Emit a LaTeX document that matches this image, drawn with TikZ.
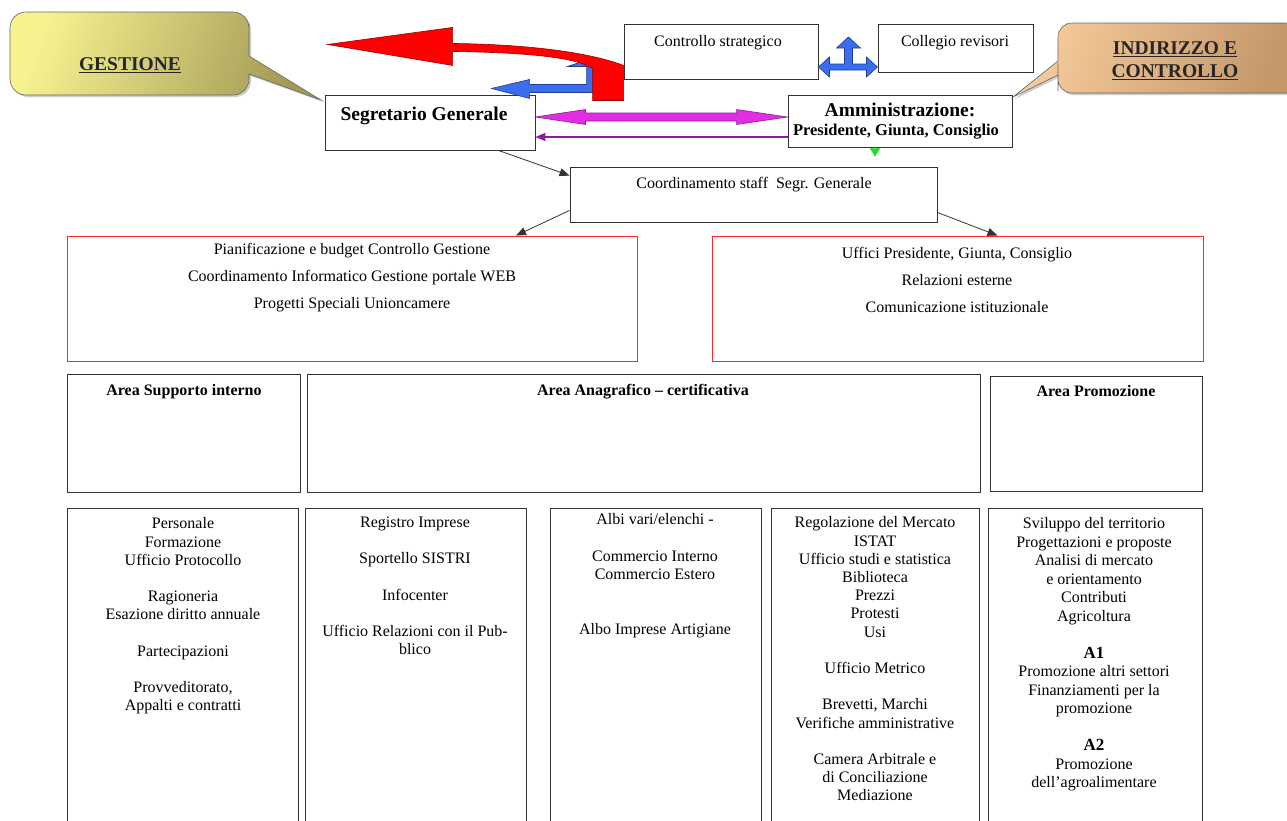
\documentclass[tikz,border=0pt]{standalone}
\usepackage{fontspec}
\setmainfont{Liberation Serif}
\usetikzlibrary{arrows.meta,calc,shadows}

\definecolor{callyel}{HTML}{F7F290}
\definecolor{callolv}{HTML}{A29A56}
\definecolor{callpch}{HTML}{F6CC9C}
\definecolor{callbrn}{HTML}{C4976A}
\definecolor{arrmag}{HTML}{E22EE2}
\definecolor{arrmagdk}{HTML}{8A1E96}
\definecolor{arrpur}{HTML}{8E1AA0}
\definecolor{arrblue}{HTML}{3A6EEE}
\definecolor{arrbluedk}{HTML}{1F3C9E}
\definecolor{arrgreen}{HTML}{22DD22}
\definecolor{boxline}{HTML}{333333}

\tikzset{
  box/.style={draw=boxline, line width=0.9pt, rectangle, inner sep=0pt},
  redbox/.style={draw=red!85, line width=0.9pt, rectangle, inner sep=0pt},
  txt/.style={anchor=north, inner sep=0pt, align=center, font=\fontsize{16}{18.2}\selectfont},
  ttl/.style={txt, font=\fontsize{16}{18.2}\selectfont\bfseries},
  bigttl/.style={txt, font=\fontsize{19.5}{23}\selectfont\bfseries},
  link/.style={draw=boxline, line width=0.8pt, -{Triangle[length=10pt,width=8pt]}},
  blockarr/.style={line width=0.6pt, line join=miter},
  calltxt/.style={bigttl, text=black!85},
}

\begin{document}
\begin{tikzpicture}[x=1pt, y=-1pt]
  \useasboundingbox (0,0) rectangle (1287,820);
  \fill[white] (0,0) rectangle (1287,820);
  \clip (0,0) rectangle (1287,820);

  % callouts
  \path[draw=black!60, line width=0.6pt, left color=callyel, right color=callolv, shading angle=70,
        drop shadow={opacity=0.4, shadow xshift=2pt, shadow yshift=-2pt}]
    [rounded corners=16pt] (10,50) -- (10,12) -- (249,12) -- (249,40)
    [sharp corners] -- (249,56) -- (321,100) -- (249,74) -- (249,76)
    [rounded corners=16pt] -- (249,95) -- (10,95) -- cycle;
  \node[calltxt] (gest) at (130,57) {\underline{GESTIONE}};

  \path[draw=black!60, line width=0.6pt, left color=callpch, right color=callbrn, shading angle=70,
        drop shadow={opacity=0.4, shadow xshift=2pt, shadow yshift=-2pt}]
    [rounded corners=14pt] (1180,23) -- (1300,23) -- (1300,93) -- (1058,93) -- (1058,77)
    [sharp corners] -- (1058,75) -- (1013,97) -- (1058,61) -- (1058,58)
    [rounded corners=14pt] -- (1058,23) -- cycle;
  \node[calltxt] (indir) at (1175,41) {\underline{INDIRIZZO E}\\\underline{CONTROLLO}};

  % top boxes
  \node[box, minimum width=194pt, minimum height=55pt] (cs) at (721,51.5) {};
  \node[box, minimum width=155pt, minimum height=48pt] (cr) at (955.5,48) {};
  \node[box, minimum width=210pt, minimum height=55pt] (seg) at (430,122.5) {};
  \node[box, minimum width=224pt, minimum height=52pt] (amm) at (900,121) {};
  \node[box, minimum width=367pt, minimum height=55pt] (coord) at (753.5,194.5) {};

  \node[txt] (cstxt) at (718,35.5) {Controllo strategico};
  \node[txt] (crtxt) at (955,35.5) {Collegio revisori};
  \node[bigttl] (segtxt) at (424,107) {Segretario Generale};
  \node[bigttl] (ammtxt) at (900,103) {Amministrazione:};
  \node[txt, font=\fontsize{16.5}{19}\selectfont\bfseries] (ammsub) at (896,123.5) {Presidente, Giunta, Consiglio};
  \node[txt] (coordtxt) at (754,177.5) {Coordinamento staff\ \ Segr. Generale};

  % blue and red bent arrows
  \begin{scope}[shift={(cs.south west)}]
    \draw[blockarr, draw=arrbluedk, fill=arrblue] (-37,-13) -- (-37,5) -- (-94,5) -- (-94,0)
      -- (-132,9) -- (-94,19) -- (-94,13) -- (-29,13) -- (-29,-13) -- (-20,-13)
      -- (-29,-22) -- (-56,-13) -- cycle;
    \draw[blockarr, draw=red!60!black, fill=red] (-31,21) -- (0,21) -- (0,-14)
      .. controls (-34,-27) and (-94,-35) .. (-171,-36) -- (-171,-52) -- (-296,-35)
      -- (-171,-14) -- (-171,-28) .. controls (-104,-27) and (-49,-23) .. (-31,-11) -- cycle;
  \end{scope}

  % three-way arrow
  \coordinate (bL) at ([yshift=-15.5pt]cs.east);
  \begin{scope}[shift={(bL)}]
    \draw[blockarr, draw=arrbluedk, fill=arrblue] (0,0) -- (11,-10) -- (11,-3) -- (26,-3)
      -- (26,-19) -- (18,-19) -- (30,-30) -- (42,-19) -- (34,-19) -- (34,-3) -- (48,-3)
      -- (48,-10) -- (59,0) -- (48,10) -- (48,3) -- (11,3) -- (11,10) -- cycle;
  \end{scope}

  % magenta double arrow
  \coordinate (mL) at ([yshift=5.5pt]seg.east);
  \coordinate (mR) at ([yshift=4pt]amm.west);
  \draw[blockarr, draw=arrmagdk, fill=arrmag] (mL) -- ($(mL)+(50,-7.5)$) -- ($(mL)+(50,-4)$)
    -- ($(mR)+(-51,-4)$) -- ($(mR)+(-51,-7.5)$) -- (mR) -- ($(mR)+(-51,7.5)$)
    -- ($(mR)+(-51,4)$) -- ($(mL)+(50,4)$) -- ($(mL)+(50,7.5)$) -- cycle;
  \draw[arrpur, line width=1.3pt, -{Triangle[length=10pt,width=8pt]}]
    ([yshift=-16pt]amm.west) -- ([yshift=-14.5pt]seg.east);
  \draw[arrgreen, line width=0.5pt, -{Triangle[length=8pt,width=10pt]}]
    ([xshift=-25pt]amm.south) -- ++(0,9);

  % staff
  \node[redbox, minimum width=570pt, minimum height=125pt] (staffL) at (352,298.5) {};
  \node[redbox, minimum width=491pt, minimum height=125pt] (staffR) at (957.5,298.5) {};
  \node[txt] (staffLtxt) at (352,243.5) {Pianificazione e budget Controllo Gestione\\[8.8pt]
    Coordinamento Informatico Gestione portale WEB\\[8.8pt]Progetti Speciali Unioncamere};
  \node[txt] (staffRtxt) at (957,247.5) {Uffici Presidente, Giunta, Consiglio\\[8.8pt]
    Relazioni esterne\\[8.8pt]Comunicazione istituzionale};

  \draw[link] ([xshift=-37pt]seg.south east) -- ([yshift=-9pt]coord.north west);
  \draw[link] ([yshift=12pt]coord.south west) -- ([xshift=164pt]staffL.north);
  \draw[link] ([yshift=10pt]coord.south east) -- ([xshift=40pt]staffR.north);

  % areas
  \node[box, minimum width=233pt, minimum height=118pt] (areaS) at (183.5,433) {};
  \node[box, minimum width=673pt, minimum height=118pt] (areaA) at (643.5,433) {};
  \node[box, minimum width=212pt, minimum height=115pt] (areaP) at (1096,433.5) {};
  \node[ttl] (areaStxt) at (184,384.5) {Area Supporto interno};
  \node[ttl] (areaAtxt) at (643,384.5) {Area Anagrafico -- certificativa};
  \node[ttl] (areaPtxt) at (1096,385.5) {Area Promozione};

  % offices
  \node[box, minimum width=231pt, minimum height=330pt] (col1) at (182.5,673) {};
  \node[box, minimum width=221pt, minimum height=330pt] (col2) at (415.5,673) {};
  \node[box, minimum width=211pt, minimum height=330pt] (col3) at (655.5,673) {};
  \node[box, minimum width=208pt, minimum height=330pt] (col4) at (875,673) {};
  \node[box, minimum width=214pt, minimum height=330pt] (col5) at (1095,673) {};

  \node[txt] (col1txt) at (183,517.5) {Personale\\Formazione\\Ufficio Protocollo\\[18.2pt]
    Ragioneria\\Esazione diritto annuale\\[18.2pt]Partecipazioni\\[18.2pt]
    Provveditorato,\\Appalti e contratti};
  \node[txt] (col2txt) at (415,516.5) {Registro Imprese\\[18.2pt]Sportello SISTRI\\[18.2pt]
    Infocenter\\[18.2pt]Ufficio Relazioni con il Pub-\\blico};
  \node[txt] (col3txt) at (655,513.5) {Albi vari/elenchi -\\[18.2pt]Commercio Interno\\
    Commercio Estero\\[36.4pt]Albo Imprese Artigiane};
  \node[txt] (col4txt) at (875,516.5) {Regolazione del Mercato\\ISTAT\\Ufficio studi e statistica\\
    Biblioteca\\Prezzi\\Protesti\\Usi\\[18.2pt]Ufficio Metrico\\[18.2pt]Brevetti, Marchi\\
    Verifiche amministrative\\[18.2pt]Camera Arbitrale e\\di Conciliazione\\Mediazione};
  \node[txt, font=\fontsize{16}{18.5}\selectfont] (col5txt) at (1094,517.5) {Sviluppo del territorio\\
    Progettazioni e proposte\\Analisi di mercato\\e orientamento\\Contributi\\Agricoltura\\[18.5pt]
    {\fontsize{17}{18.5}\selectfont\bfseries A1}\\Promozione altri settori\\Finanziamenti per la\\
    promozione\\[18.5pt]{\fontsize{17}{18.5}\selectfont\bfseries A2}\\Promozione\\dell’agroalimentare};
\end{tikzpicture}
\end{document}
